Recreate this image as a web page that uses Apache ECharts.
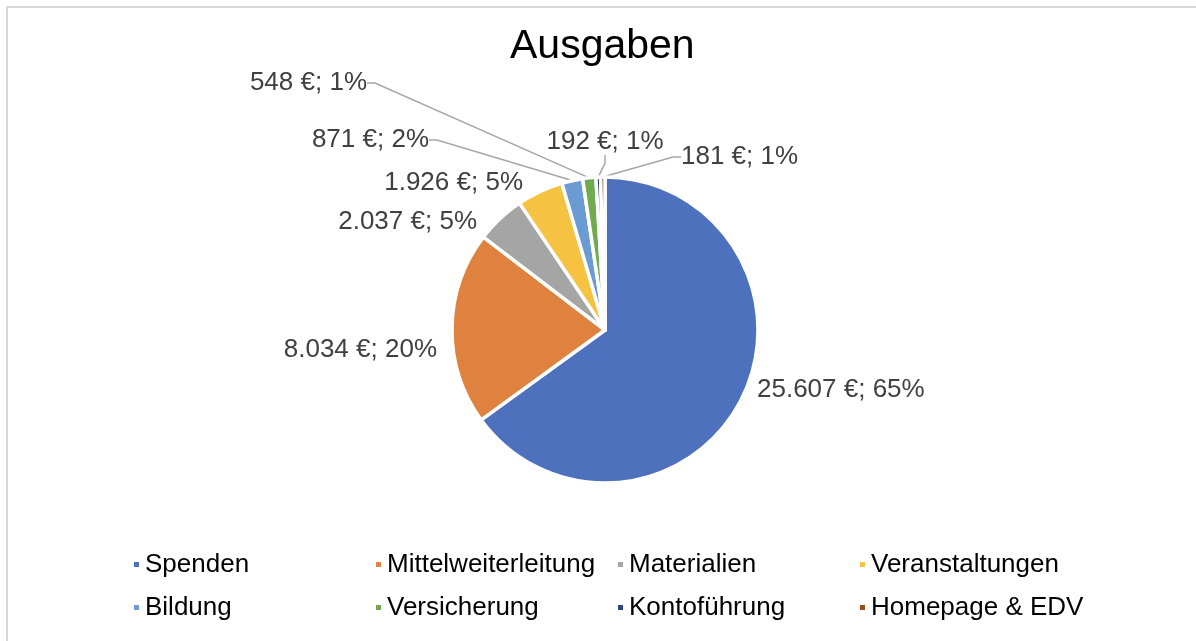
<!DOCTYPE html>
<html>
<head>
<meta charset="utf-8">
<title>Ausgaben</title>
<script src="https://cdn.jsdelivr.net/npm/echarts@6/dist/echarts.min.js"></script>
<style>
  html, body { margin: 0; padding: 0; background: #fff; overflow: hidden; }
  #rahmen {
    position: absolute; left: 6px; top: 6px; width: 1200px; height: 650px;
    border-top: 2px solid #d9d9d9; border-left: 2px solid #d9d9d9;
  }
  #chart { position: absolute; left: 0; top: 0; width: 1196px; height: 641px; }
</style>
</head>
<body>
<div id="rahmen"></div>
<div id="chart"></div>
<script>
// Kategorien und Werte
var kategorien = ['Spenden', 'Mittelweiterleitung', 'Materialien', 'Veranstaltungen',
                  'Bildung', 'Versicherung', 'Kontoführung', 'Homepage & EDV'];
var betraege = [25607, 8034, 2037, 1926, 871, 548, 192, 181];
// Prozentangaben so wie im Original beschriftet
var prozente = ['65%', '20%', '5%', '5%', '2%', '1%', '1%', '1%'];
var farben = ['#4E71BE', '#E0823F', '#A5A5A5', '#F5C242', '#6A9BD3', '#72AB4F', '#284679', '#9D4A16'];

// Lage der Beschriftungen wie bei Excel (x, y, Ausrichtung, Linie?)
var labelPos = [
  [757, 390, 'left', false],
  [437, 350, 'right', false],
  [477, 222, 'right', false],
  [523, 183, 'right', false],
  [429, 140, 'right', true],
  [367, 83, 'right', true],
  [605, 142, 'center', true],
  [681, 157, 'left', true]
];

function euro(v) {
  // Tausenderpunkt wie im deutschen Format
  return String(v).replace(/\B(?=(\d{3})+(?!\d))/g, '.') + ' €';
}

var daten = [];
for (var i = 0; i < kategorien.length; i++) {
  daten.push({
    name: kategorien[i],
    value: betraege[i],
    labelLine: { show: labelPos[i][3] }
  });
}

var chart = echarts.init(document.getElementById('chart'));

var option = {
  animation: false,
  color: farben,
  title: {
    text: 'Ausgaben',
    left: 505,
    top: 21,
    textStyle: {
      fontFamily: 'Liberation Sans',
      fontSize: 41,
      fontWeight: 'normal',
      color: '#000'
    }
  },
  legend: {
    left: 127,
    top: 538,
    width: 990,
    icon: 'rect',
    itemWidth: 7,
    itemHeight: 7,
    itemGap: 0,
    data: kategorien,
    textStyle: {
      fontFamily: 'Liberation Sans',
      fontSize: 26,
      color: '#000',
      width: 229,
      lineHeight: 43,
      overflow: 'none'
    }
  },
  series: [{
    name: 'Ausgaben',
    type: 'pie',
    center: [605, 330],
    radius: 153,
    startAngle: 90,
    clockwise: true,
    avoidLabelOverlap: false,
    itemStyle: {
      borderColor: '#fff',
      borderWidth: 3.5
    },
    label: {
      show: true,
      position: 'outside',
      fontFamily: 'Liberation Sans',
      fontSize: 26,
      color: '#404040',
      formatter: function (p) {
        return euro(p.value) + '; ' + prozente[p.dataIndex];
      }
    },
    labelLine: {
      show: true,
      length: 12,
      length2: 8,
      lineStyle: { color: '#a6a6a6', width: 1.5 }
    },
    labelLayout: function (p) {
      var lp = labelPos[p.dataIndex];
      return { x: lp[0], y: lp[1], align: lp[2], verticalAlign: 'middle' };
    },
    data: daten
  }]
};

chart.setOption(option);
</script>
</body>
</html>
